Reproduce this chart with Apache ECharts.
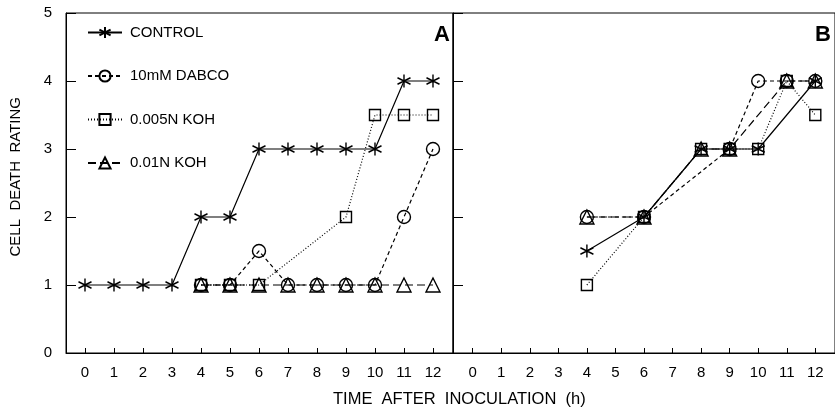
<!DOCTYPE html>
<html><head><meta charset="utf-8">
<script src="https://cdn.jsdelivr.net/npm/echarts@6/dist/echarts.min.js"></script>
<style>html,body{margin:0;padding:0;background:#fff}#c{width:835px;height:413px}</style>
</head><body><div id="c"></div>
<script>
// ---- data (panel A) ----
var controlA_x = [0,1,2,3,4,5,6,7,8,9,10,11,12];
var controlA_y = [1,1,1,1,2,2,3,3,3,3,3,4,4];
var dabcoA_x = [4,5,6,7,8,9,10,11,12];
var dabcoA_y = [1,1,1.5,1,1,1,1,2,3];
var koh005A_x = [4,5,6,9,10,11,12];
var koh005A_y = [1,1,1,2,3.5,3.5,3.5];
var koh01A_x = [4,5,6,7,8,9,10,11,12];
var koh01A_y = [1,1,1,1,1,1,1,1,1];
// ---- data (panel B) ----
var controlB_x = [4,6,8,9,10,12];
var controlB_y = [1.5,2,3,3,3,4];
var dabcoB_x = [4,6,9,10,11,12];
var dabcoB_y = [2,2,3,4,4,4];
var koh005B_x = [4,6,8,9,10,11,12];
var koh005B_y = [1,2,3,3,3,4,3.5];
var koh01B_x = [4,6,8,9,11,12];
var koh01B_y = [2,2,3,3,4,4];
// ---- ticks ----
var xTicks = [0,1,2,3,4,5,6,7,8,9,10,11,12];
var yTicks = [0,1,2,3,4,5];
var names = ['CONTROL','10mM DABCO','0.005N KOH','0.01N KOH'];

function pairs(xs, ys){ return xs.map(function(x,i){return [x, ys[i]];}); }

var FONT = '"Liberation Sans", Arial, sans-serif';
var asterisk = 'path://M0,-10L0,10M-8.66,-5L8.66,5M-8.66,5L8.66,-5';
var styles = [
  {symbol: asterisk, size: 13, dash: 'solid'},
  {symbol: 'circle', size: 13, dash: [4,3]},
  {symbol: 'rect', size: 11, dash: [1,2]},
  {symbol: 'triangle', size: 14, dash: [8,4]}
];
var dataA = [pairs(controlA_x,controlA_y), pairs(dabcoA_x,dabcoA_y), pairs(koh005A_x,koh005A_y), pairs(koh01A_x,koh01A_y)];
var dataB = [pairs(controlB_x,controlB_y), pairs(dabcoB_x,dabcoB_y), pairs(koh005B_x,koh005B_y), pairs(koh01B_x,koh01B_y)];

var series = [];
[dataA, dataB].forEach(function(d, p){
  d.forEach(function(pts, i){
    var s = styles[i];
    series.push({
      name: names[i], type: 'line', xAxisIndex: p, yAxisIndex: p,
      data: pts, symbol: s.symbol, symbolSize: s.size, showAllSymbol: true,
      lineStyle: {color: '#000', width: 1.2, type: s.dash},
      itemStyle: {color: 'rgba(255,255,255,0)', borderColor: '#000', borderWidth: 1.4},
      animation: false, z: 2 + i
    });
  });
});

function xAxis(idx, min, max){
  return {
    type: 'value', gridIndex: idx, min: min, max: max,
    axisLine: {show: true, onZero: false, lineStyle: {color: '#000', width: 1}},
    axisTick: {show: true, inside: true, length: 5, customValues: xTicks, lineStyle: {color: '#000'}},
    axisLabel: {customValues: xTicks, color: '#000', fontSize: 15, fontFamily: FONT, margin: 12},
    splitLine: {show: false}
  };
}
function yAxis(idx, showLabels){
  return {
    type: 'value', gridIndex: idx, min: 0, max: 5, interval: 1,
    axisLine: {show: true, onZero: false, lineStyle: {color: '#000', width: 1}},
    axisTick: {show: true, inside: true, length: 10, lineStyle: {color: '#000'}},
    axisLabel: {show: showLabels, color: '#000', fontSize: 15, fontFamily: FONT, margin: 14},
    splitLine: {show: false}
  };
}

var chart = echarts.init(document.getElementById('c'));
chart.setOption({
  backgroundColor: '#fff',
  animation: false,
  grid: [
    {left: 66, top: 13, width: 387, height: 340, show: true, borderColor: '#000', borderWidth: 1, backgroundColor: 'transparent'},
    {left: 453, top: 13, width: 388, height: 340, show: true, borderColor: '#000', borderWidth: 1, backgroundColor: 'transparent'}
  ],
  xAxis: [xAxis(0, -0.655, 12.69), xAxis(1, -0.69, 12.69)],
  yAxis: [yAxis(0, true), yAxis(1, false)],
  legend: {
    orient: 'vertical', left: 82, top: 20, itemWidth: 34, itemHeight: 14, itemGap: 28.5,
    data: names, selectedMode: false,
    textStyle: {color: '#000', fontSize: 15, fontFamily: FONT, padding: [0,0,0,3]}
  },
  graphic: [
    {type: 'text', left: 434, top: 24, style: {text: 'A', font: 'bold 22px ' + FONT, fill: '#000'}},
    {type: 'text', left: 815, top: 24, style: {text: 'B', font: 'bold 22px ' + FONT, fill: '#000'}},
    {type: 'text', left: 333, top: 391, style: {text: 'TIME  AFTER  INOCULATION  (h)', font: '16.5px ' + FONT, fill: '#000'}},
    {type: 'text', left: 8, top: 97, rotation: Math.PI/2, style: {text: 'CELL  DEATH  RATING', font: '15px ' + FONT, fill: '#000'}}
  ],
  series: series
});
</script></body></html>
